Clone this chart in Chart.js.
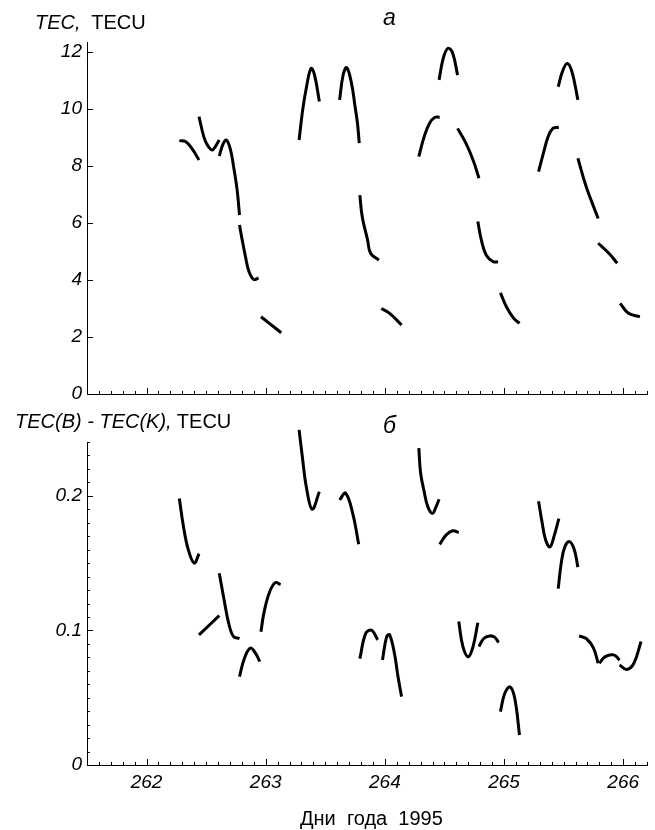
<!DOCTYPE html>
<html>
<head>
<meta charset="utf-8">
<script src="https://cdn.jsdelivr.net/npm/chart.js@4.4.1/dist/chart.umd.min.js"></script>
<style>
  body { margin: 0; background: #fff; }
  #wrap { position: relative; width: 655px; height: 830px; overflow: hidden; }
  canvas { position: absolute; left: 0; }
  .lbl { position: absolute; font-family: "Liberation Sans", Arial, sans-serif; font-size: 20px; line-height: 20px; color: #000; white-space: pre; }
  .it { font-style: italic; }
  .pan { font-size: 23px; line-height: 23px; font-style: italic; }
</style>
</head>
<body>
<div id="wrap">
  <canvas id="chartTec" width="655" height="420" style="top:0"></canvas>
  <canvas id="chartDiff" width="655" height="430" style="top:400px"></canvas>
  <div class="lbl" style="left:35px; top:12px"><span class="it">TEC,</span>  TECU</div>
  <div class="lbl pan" style="left:383px; top:6px">а</div>
  <div class="lbl" style="left:15px; top:411px"><span class="it">TEC(B) - TEC(K),</span> TECU</div>
  <div class="lbl pan" style="left:383px; top:414px">б</div>
  <div class="lbl" style="left:300px; top:808px">Дни  года  1995</div>
</div>
<script>
// Ось X: дни года, отметки
const dayTicks = [262, 263, 264, 265, 266];
const tecTicks = [0, 2, 4, 6, 8, 10, 12];
const diffTicks = [0, 0.1, 0.2];

// Панель а: ПЭС (TECU), null разделяет отрезки
const tecDays = [
  262.275, 262.326, 262.38, 262.44, null,
  262.44, 262.48, 262.51, 262.55, 262.58, 262.61, null,
  262.61, 262.64, 262.67, 262.705, 262.73, 262.76, 262.78, null,
  262.78, 262.80, 262.83, 262.86, 262.90, 262.94, null,
  262.96, 263.03, 263.13, null,
  263.28, 263.31, 263.34, 263.38, 263.41, 263.45, null,
  263.62, 263.65, 263.68, 263.72, 263.75, 263.77, 263.785, null,
  263.79, 263.81, 263.855, 263.88, 263.95, null,
  263.97, 264.04, 264.14, null,
  264.285, 264.33, 264.375, 264.42, 264.46, null,
  264.455, 264.49, 264.53, 264.57, 264.61, null,
  264.61, 264.68, 264.74, 264.79, null,
  264.78, 264.81, 264.85, 264.91, 264.95, null,
  264.97, 265.02, 265.08, 265.13, null,
  265.29, 265.33, 265.37, 265.41, 265.46, null,
  265.455, 265.49, 265.53, 265.57, 265.62, null,
  265.62, 265.69, 265.79, null,
  265.79, 265.88, 265.95, null,
  265.975, 266.045, 266.14
];
const tecValues = [
  8.89, 8.86, 8.62, 8.21, null,
  9.73, 9.03, 8.74, 8.56, 8.7, 8.91, null,
  8.35, 8.75, 8.91, 8.56, 7.98, 7.16, 6.28, null,
  5.93, 5.46, 4.82, 4.29, 4.02, 4.07, null,
  2.71, 2.48, 2.15, null,
  8.91, 9.96, 10.72, 11.42, 11.19, 10.26, null,
  10.32, 11.2, 11.45, 10.9, 10.08, 9.5, 8.8, null,
  6.98, 6.22, 5.4, 4.94, 4.7, null,
  3.0, 2.83, 2.42, null,
  8.33, 9.03, 9.5, 9.71, 9.71, null,
  11.02, 11.78, 12.13, 11.95, 11.19, null,
  9.32, 8.8, 8.21, 7.57, null,
  6.05, 5.4, 4.88, 4.64, 4.64, null,
  3.55, 3.06, 2.66, 2.48, null,
  7.8, 8.44, 9.03, 9.32, 9.36, null,
  10.78, 11.31, 11.6, 11.31, 10.32, null,
  8.27, 7.27, 6.16, null,
  5.29, 4.94, 4.59, null,
  3.18, 2.83, 2.71
];

// Панель б: TEC(B) - TEC(K)
const diffDays = [
  262.275, 262.31, 262.35, 262.40, 262.44, null,
  263.28, 263.31, 263.34, 263.39, 263.45, null,
  263.62, 263.67, 263.73, 263.78, null,
  262.44, 262.61, null,
  262.61, 262.65, 262.69, 262.73, 262.78, null,
  262.96, 262.985, 263.03, 263.08, 263.125, null,
  262.78, 262.82, 262.87, 262.915, 262.95, null,
  263.79, 263.84, 263.89, 263.94, null,
  263.98, 264.015, 264.04, 264.08, 264.11, 264.14, null,
  264.285, 264.30, 264.33, 264.36, 264.40, 264.43, 264.455, null,
  264.46, 264.515, 264.57, 264.62, null,
  264.62, 264.655, 264.70, 264.74, 264.78, null,
  264.79, 264.83, 264.88, 264.92, 264.955, null,
  264.97, 265.005, 265.05, 265.09, 265.13, null,
  265.29, 265.32, 265.35, 265.385, 265.42, 265.46, null,
  265.455, 265.48, 265.51, 265.55, 265.59, 265.62, null,
  265.63, 265.69, 265.75, 265.79, null,
  265.80, 265.85, 265.92, 265.97, null,
  265.97, 266.03, 266.09, 266.15
];
const diffValues = [
  0.198, 0.177, 0.160, 0.150, 0.157, null,
  0.249, 0.227, 0.207, 0.190, 0.203, null,
  0.197, 0.202, 0.187, 0.164, null,
  0.0967, 0.111, null,
  0.1425, 0.123, 0.105, 0.0954, 0.094, null,
  0.099, 0.113, 0.128, 0.1355, 0.134, null,
  0.0657, 0.079, 0.0868, 0.083, 0.0768, null,
  0.079, 0.098, 0.100, 0.093, null,
  0.078, 0.0954, 0.0967, 0.083, 0.0657, 0.0508, null,
  0.2355, 0.217, 0.203, 0.192, 0.187, 0.192, 0.1975, null,
  0.164, 0.171, 0.174, 0.1727, null,
  0.1066, 0.088, 0.0805, 0.088, 0.1057, null,
  0.088, 0.094, 0.0959, 0.095, 0.091, null,
  0.0396, 0.053, 0.058, 0.0496, 0.0223, null,
  0.196, 0.180, 0.167, 0.162, 0.170, 0.183, null,
  0.131, 0.150, 0.162, 0.166, 0.160, 0.147, null,
  0.0959, 0.094, 0.087, 0.0756, null,
  0.0756, 0.0805, 0.0818, 0.078, null,
  0.0743, 0.071, 0.0756, 0.0917
];

// разбиваем на отдельные кривые по null
function makeSegments(xs, ys) {
  const sets = [];
  let cur = [];
  for (let i = 0; i < xs.length; i++) {
    if (xs[i] === null) { sets.push(cur); cur = []; continue; }
    cur.push({ x: xs[i], y: ys[i] });
  }
  if (cur.length) sets.push(cur);
  return sets.map(d => ({
    data: d,
    showLine: true,
    borderColor: '#000',
    backgroundColor: '#000',
    borderWidth: 3,
    pointRadius: 0,
    tension: 0.4,
    clip: false
  }));
}

// засечки внутрь графика
const innerTicks = {
  id: 'innerTicks',
  afterDraw(chart, args, opts) {
    const ctx = chart.ctx;
    const xs = chart.scales.x, ys = chart.scales.y;
    const bottom = chart.chartArea.bottom, left = chart.chartArea.left;
    ctx.save();
    ctx.strokeStyle = '#000';
    ctx.lineWidth = 1;
    ctx.beginPath();
    for (let i = 2615; i <= 2662; i++) {
      const px = Math.round(xs.getPixelForValue(i / 10)) + 0.5;
      const len = i % 10 === 0 ? 6 : 3;
      ctx.moveTo(px, bottom);
      ctx.lineTo(px, bottom - len);
    }
    opts.yMajor.forEach(v => {
      const py = Math.round(ys.getPixelForValue(v)) + 0.5;
      ctx.moveTo(left, py);
      ctx.lineTo(left + 6, py);
    });
    opts.yMinor.forEach(v => {
      const py = Math.round(ys.getPixelForValue(v)) + 0.5;
      ctx.moveTo(left, py);
      ctx.lineTo(left + 3, py);
    });
    ctx.stroke();
    ctx.restore();
  }
};

const tickFont = { family: 'Liberation Sans, Arial, sans-serif', size: 19, style: 'italic' };

function axisX(showLabels) {
  return {
    type: 'linear', min: 261.5, max: 266.2,
    grid: { display: false, drawTicks: false },
    border: { display: true, color: '#000', width: 1 },
    ticks: { display: showLabels, color: '#000', font: tickFont, padding: 6, maxRotation: 0,
             callback: v => String(v) },
    afterBuildTicks: s => { s.ticks = dayTicks.map(v => ({ value: v })); },
    afterFit: s => { s.height = showLabels ? 40 : 0; }
  };
}

function axisY(max, ticks, fmt) {
  return {
    min: 0, max: max,
    grid: { display: false, drawTicks: false },
    border: { display: true, color: '#000', width: 1 },
    ticks: { color: '#000', font: tickFont, padding: 5, callback: fmt },
    afterBuildTicks: s => { s.ticks = ticks.map(v => ({ value: v })); },
    afterFit: s => { s.width = 87; }
  };
}

const minorDiff = [];
for (let i = 1; i <= 24; i++) if (i % 10 !== 0) minorDiff.push(i / 100);

new Chart(document.getElementById('chartTec'), {
  type: 'scatter',
  data: { datasets: makeSegments(tecDays, tecValues) },
  options: {
    responsive: false, animation: false, devicePixelRatio: 1,
    layout: { padding: { top: 42, right: 8, bottom: 26, left: 0 } },
    plugins: { legend: { display: false }, tooltip: { enabled: false },
               innerTicks: { yMajor: tecTicks, yMinor: [] } },
    scales: { x: axisX(false), y: axisY(12.35, tecTicks, v => String(v)) }
  },
  plugins: [innerTicks]
});

new Chart(document.getElementById('chartDiff'), {
  type: 'scatter',
  data: { datasets: makeSegments(diffDays, diffValues) },
  options: {
    responsive: false, animation: false, devicePixelRatio: 1,
    layout: { padding: { top: 42, right: 8, bottom: 25, left: 0 } },
    plugins: { legend: { display: false }, tooltip: { enabled: false },
               innerTicks: { yMajor: diffTicks, yMinor: minorDiff } },
    scales: { x: axisX(true), y: axisY(0.24, diffTicks, v => v === 0 ? '0' : v.toFixed(1)) }
  },
  plugins: [innerTicks]
});
</script>
</body>
</html>
